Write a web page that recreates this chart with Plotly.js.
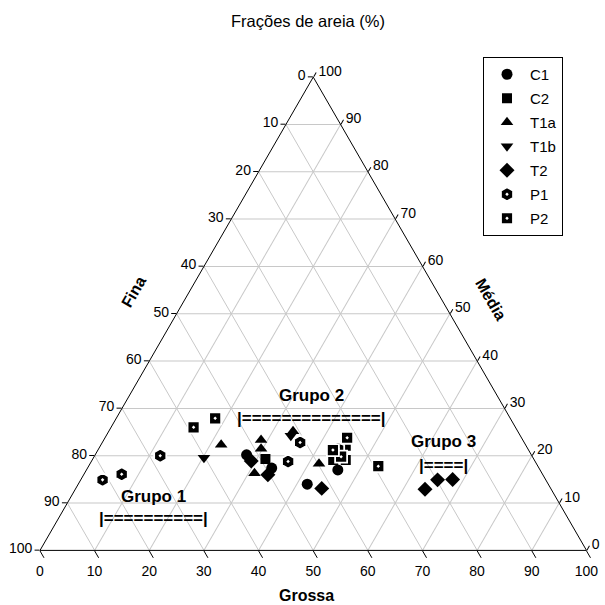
<!DOCTYPE html>
<html>
<head>
<meta charset="utf-8">
<script src="https://cdn.plot.ly/plotly-3.0.1.min.js"></script>
<style>html,body{margin:0;padding:0;background:#fff;}#chart{width:605px;height:605px;}</style>
</head>
<body>
<div id="chart"></div>
<script>
// Composition data (%): Fina (fine), Média (medium), Grossa (coarse)
const seriesNames = ['C1', 'C2', 'T1a', 'T1b', 'T2', 'P1', 'P2'];

const c1Fina   = [52.1, 48.9, 44.1, 37.0];
const c1Media  = [20.2, 17.4, 14.0, 17.0];
const c1Grossa = [27.7, 33.7, 41.9, 46.0];

const c2Fina   = [49.1, 35.9, 33.0, 34.5, 36.8];
const c2Media  = [19.3, 21.0, 22.1, 19.1, 19.1];
const c2Grossa = [31.6, 43.1, 44.9, 46.4, 44.1];

const t1aFina   = [55.7, 47.9, 48.8, 52.6, 41.1, 39.8];
const t1aMedia  = [22.3, 23.3, 21.5, 16.3, 25.2, 18.3];
const t1aGrossa = [22.0, 28.8, 29.7, 31.1, 33.7, 41.9];

const t1bFina   = [60.2, 42.0];
const t1bMedia  = [19.6, 24.2];
const t1bGrossa = [20.2, 33.8];

const t2Fina   = [51.9, 50.3, 41.9, 23.1, 19.8, 17.0];
const t2Media  = [18.9, 16.0, 13.1, 12.9, 14.9, 15.0];
const t2Grossa = [29.2, 33.7, 45.0, 64.0, 65.3, 68.0];

const p1Fina   = [81.1, 77.0, 68.0, 45.2, 41.0, 34.7];
const p1Media  = [14.9, 16.1, 20.0, 18.8, 22.8, 21.5];
const p1Grossa = [4.0, 6.9, 12.0, 36.0, 36.2, 43.8];

const p2Fina   = [58.9, 54.0, 31.9, 35.0, 29.2, 35.8];
const p2Media  = [26.0, 27.9, 23.8, 19.8, 17.8, 21.2];
const p2Grossa = [15.1, 18.1, 44.3, 45.2, 53.0, 43.0];

const tickValues = [0, 10, 20, 30, 40, 50, 60, 70, 80, 90, 100];
const tickLabels = ['100', '90', '80', '70', '60', '50', '40', '30', '20', '10', '0'];

const groupLabels = ['Grupo 1', 'Grupo 2', 'Grupo 3'];
const groupBars = ['|==========|', '|==============|', '|====|'];

const FONT = 'Liberation Sans, Arial, sans-serif';
const W = 605, H = 605;

function mk(name, fina, media, grossa, symbol, size, lineColor, lineWidth) {
  return {
    type: 'scatterternary',
    mode: 'markers',
    name: name,
    legendgroup: name,
    a: media, b: fina, c: grossa,
    marker: {symbol: symbol, size: size, color: '#000',
             line: {color: lineColor, width: lineWidth}},
    hoverinfo: 'a+b+c+name'
  };
}

const traces = [
  mk(seriesNames[0], c1Fina, c1Media, c1Grossa, 'circle', 11, '#000', 0),
  mk(seriesNames[1], c2Fina, c2Media, c2Grossa, 'square', 10, '#000', 0),
  mk(seriesNames[2], t1aFina, t1aMedia, t1aGrossa, 'triangle-up', 11, '#000', 0),
  mk(seriesNames[3], t1bFina, t1bMedia, t1bGrossa, 'triangle-down', 11, '#000', 0),
  mk(seriesNames[4], t2Fina, t2Media, t2Grossa, 'diamond', 11.5, '#000', 0),
  mk(seriesNames[5], p1Fina, p1Media, p1Grossa, 'hexagon-dot', 14, '#fff', 1.8),
  mk(seriesNames[6], p2Fina, p2Media, p2Grossa, 'square-dot', 12, '#fff', 1.8)
];

function axis(labels, len) {
  return {
    min: 0,
    tickmode: 'array',
    tickvals: tickValues,
    ticktext: labels,
    ticks: 'outside',
    ticklen: len,
    tickcolor: '#000',
    tickwidth: 1,
    linecolor: '#000',
    linewidth: 1,
    showline: true,
    showgrid: true,
    gridcolor: '#c8c8c8',
    gridwidth: 1,
    tickfont: {family: FONT, size: 14, color: '#000'},
    title: {text: ''}
  };
}

function px(x) { return x / W; }
function py(y) { return 1 - y / H; }

const bold = (s) => ({family: FONT, size: s, color: '#000', weight: 'bold'});

const annotations = [
  {text: 'Fina', x: px(133), y: py(292), textangle: -60, font: bold(16)},
  {text: 'Média', x: px(490), y: py(299), textangle: 60, font: bold(16)},
  {text: 'Grossa', x: px(306), y: py(595), font: bold(16)},
  {text: groupLabels[0], x: px(153), y: py(496), font: bold(17)},
  {text: groupBars[0], x: px(153), y: py(518), font: bold(17)},
  {text: groupLabels[1], x: px(311), y: py(395), font: bold(17)},
  {text: groupBars[1], x: px(311), y: py(418), font: bold(17)},
  {text: groupLabels[2], x: px(443), y: py(441), font: bold(17)},
  {text: groupBars[2], x: px(443), y: py(465), font: bold(17)}
].map(a => Object.assign({xref: 'paper', yref: 'paper', showarrow: false, xanchor: 'center', yanchor: 'middle'}, a));

const layout = {
  width: W, height: H,
  margin: {l: 0, r: 0, t: 0, b: 0},
  paper_bgcolor: '#fff',
  font: {family: FONT, size: 14, color: '#000'},
  title: {text: 'Frações de areia (%)', x: px(308), xref: 'paper', xanchor: 'center',
          y: 1 - 21 / H, yref: 'container', yanchor: 'middle',
          font: {family: FONT, size: 16.5, color: '#000'}},
  ternary: {
    sum: 100,
    domain: {x: [40 / W, 586.5 / W], y: [54.5 / H, 528 / H]},
    bgcolor: '#fff',
    aaxis: axis(tickLabels, 5),
    baxis: axis(tickLabels.map(t => t + '\u2002\u200a'), 8),
    caxis: axis(tickLabels, 5)
  },
  showlegend: true,
  legend: {
    x: px(483), y: py(57), xanchor: 'left', yanchor: 'top',
    bordercolor: '#000', borderwidth: 1, bgcolor: '#fff',
    font: {family: FONT, size: 15, color: '#000'},
    tracegroupgap: 1.5,
    itemwidth: 36
  },
  annotations: annotations
};

Plotly.newPlot('chart', traces, layout, {displayModeBar: false, staticPlot: true});
</script>
</body>
</html>
